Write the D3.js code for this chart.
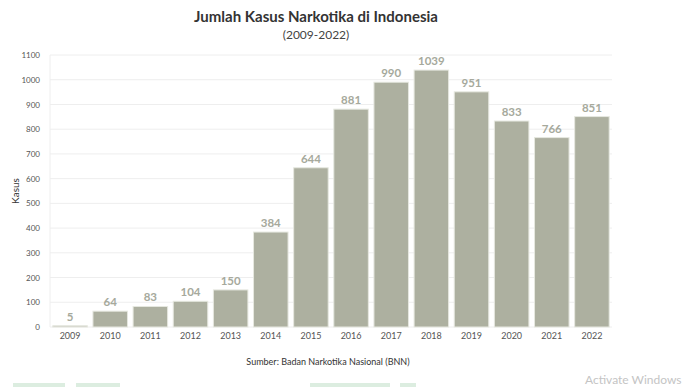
<!DOCTYPE html>
<html>
<head>
<meta charset="utf-8">
<script src="https://cdn.jsdelivr.net/npm/d3@7"></script>
<style>
  body { margin: 0; background: #fff; }
  svg { display: block; font-family: Lato, "Open Sans", sans-serif; }
</style>
</head>
<body>
<div id="chart-container"></div>
<script>
// Data
const years = ["2009", "2010", "2011", "2012", "2013", "2014", "2015", "2016", "2017", "2018", "2019", "2020", "2021", "2022"];
const cases = [5, 64, 83, 104, 150, 384, 644, 881, 990, 1039, 951, 833, 766, 851];
const yTicks = [0, 100, 200, 300, 400, 500, 600, 700, 800, 900, 1000, 1100];

const W = 688, H = 387;
const margin = { top: 55, right: 76, bottom: 60, left: 50 };
const width = W - margin.left - margin.right;
const height = H - margin.top - margin.bottom;

const svg = d3.select("#chart-container")
  .append("svg")
  .attr("width", W)
  .attr("height", H);

const g = svg.append("g")
  .attr("transform", `translate(${margin.left},${margin.top})`);

// Scales
const x = d3.scaleBand()
  .domain(years)
  .range([0, width])
  .paddingInner(0.14)
  .paddingOuter(0.07);

const y = d3.scaleLinear()
  .domain([0, 1100])
  .range([height, 0]);

// Horizontal gridlines
g.selectAll(".grid")
  .data(yTicks)
  .join("line")
  .attr("x1", 0)
  .attr("x2", width)
  .attr("y1", d => y(d))
  .attr("y2", d => y(d))
  .attr("stroke", "#eeeeee")
  .attr("stroke-width", 1);

// faint y axis line
g.append("line")
  .attr("x1", 0).attr("x2", 0)
  .attr("y1", 0).attr("y2", height)
  .attr("stroke", "#eeeeee");

// Y axis
g.append("g")
  .call(d3.axisLeft(y).tickValues(yTicks).tickFormat(d3.format("d")).tickSize(0).tickPadding(10))
  .call(a => a.select(".domain").remove())
  .selectAll("text")
  .style("font-size", "8px")
  .style("font-family", "Lato, sans-serif")
  .attr("fill", "#555");

// X axis
g.append("g")
  .attr("transform", `translate(0,${height})`)
  .call(d3.axisBottom(x).tickSize(0).tickPadding(6))
  .call(a => a.select(".domain").remove())
  .selectAll("text")
  .style("font-size", "9px")
  .style("font-family", "Lato, sans-serif")
  .attr("fill", "#555");

// Bars
g.selectAll(".bar")
  .data(years)
  .join("rect")
  .attr("x", (d, i) => x(d))
  .attr("y", (d, i) => y(cases[i]))
  .attr("width", x.bandwidth())
  .attr("height", (d, i) => y(0) - y(cases[i]))
  .attr("fill", "#adb0a0")
  .attr("stroke", "#e6e8e0")
  .attr("stroke-width", 1);

// Value labels
g.selectAll(".val")
  .data(years)
  .join("text")
  .attr("x", d => x(d) + x.bandwidth() / 2)
  .attr("y", (d, i) => y(cases[i]) - 5)
  .attr("text-anchor", "middle")
  .style("font-size", "11.5px")
  .style("font-weight", "bold")
  .attr("fill", "#a6a99c")
  .text((d, i) => cases[i]);

// Y axis label
svg.append("text")
  .attr("transform", `translate(19,${margin.top + height / 2}) rotate(-90)`)
  .attr("text-anchor", "middle")
  .style("font-size", "10px")
  .attr("fill", "#333")
  .text("Kasus");

// Title
svg.append("text")
  .attr("x", 316)
  .attr("y", 22)
  .attr("text-anchor", "middle")
  .style("font-size", "15px")
  .style("font-weight", "bold")
  .attr("fill", "#333")
  .text("Jumlah Kasus Narkotika di Indonesia");

svg.append("text")
  .attr("x", 316)
  .attr("y", 39)
  .attr("text-anchor", "middle")
  .style("font-size", "12px")
  .attr("fill", "#444")
  .text("(2009-2022)");

// Source credit
svg.append("text")
  .attr("x", 328)
  .attr("y", 365)
  .attr("text-anchor", "middle")
  .style("font-size", "9px")
  .attr("fill", "#333")
  .text("Sumber: Badan Narkotika Nasional (BNN)");

// screenshot artifacts at the bottom edge
const blobs = [[13, 52], [76, 44], [310, 80], [400, 16]];
svg.selectAll(".blob")
  .data(blobs)
  .join("rect")
  .attr("x", d => d[0])
  .attr("y", 383)
  .attr("width", d => d[1])
  .attr("height", 4)
  .attr("fill", "#dcede0");

svg.append("text")
  .attr("x", 585)
  .attr("y", 384)
  .style("font-size", "12px")
  .attr("fill", "#c4c4c4")
  .text("Activate Windows");
</script>
</body>
</html>
